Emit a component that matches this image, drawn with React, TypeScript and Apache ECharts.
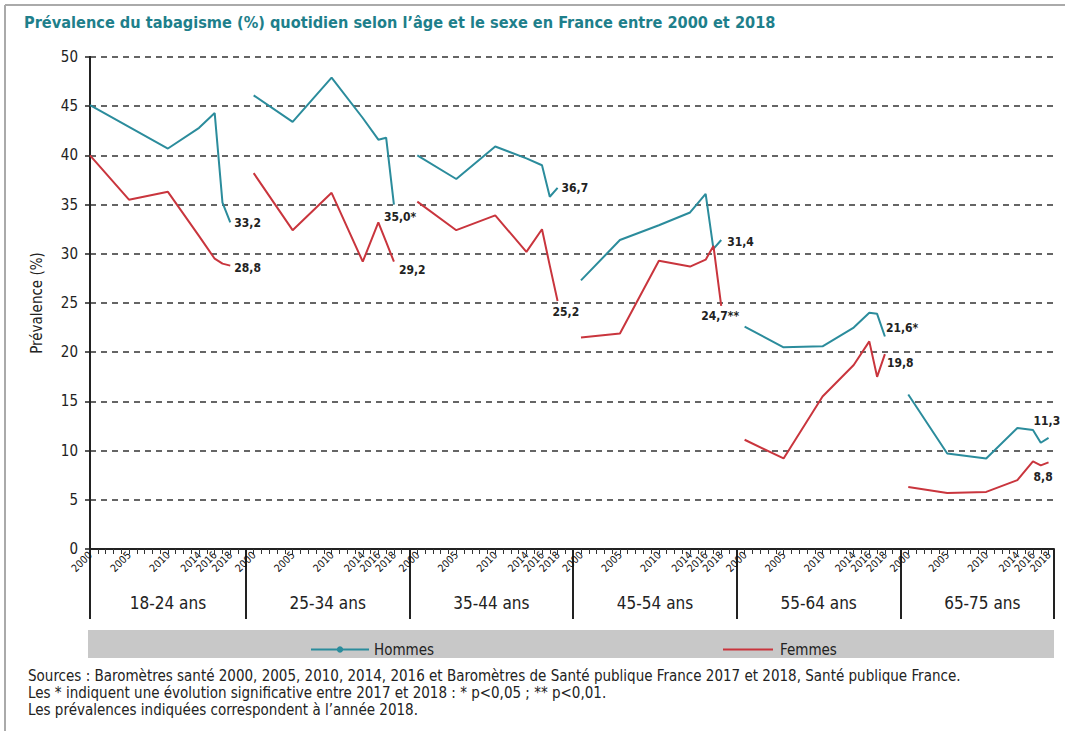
import React, { useEffect, useRef } from 'react';
import * as echarts from 'echarts';

// ---------- DATA ----------
const groups = ['18-24 ans', '25-34 ans', '35-44 ans', '45-54 ans', '55-64 ans', '65-75 ans'];
const years = [2000, 2005, 2010, 2014, 2016, 2017, 2018];
const yearTickLabels = [2000, 2005, 2010, 2014, 2016, 2018];

// Prévalence (%) by age group, values for each year in `years`
const hommes = [
  [45.1, 42.9, 40.7, 42.8, 44.3, 35.2, 33.2],
  [46.1, 43.4, 47.9, 43.8, 41.6, 41.8, 35.0],
  [40.0, 37.6, 40.9, 39.7, 39.0, 35.8, 36.7],
  [27.3, 31.4, 32.9, 34.2, 36.1, 30.5, 31.4],
  [22.6, 20.5, 20.6, 22.5, 24.0, 23.9, 21.6],
  [15.7, 9.7, 9.2, 12.3, 12.1, 10.8, 11.3],
];
const femmes = [
  [40.0, 35.5, 36.3, 31.8, 29.5, 29.0, 28.8],
  [38.2, 32.4, 36.2, 29.2, 33.2, 31.2, 29.2],
  [35.3, 32.4, 33.9, 30.2, 32.5, 28.8, 25.2],
  [21.5, 21.9, 29.3, 28.7, 29.4, 30.8, 24.7],
  [11.1, 9.2, 15.5, 18.7, 21.1, 17.5, 19.8],
  [6.3, 5.7, 5.8, 7.0, 8.9, 8.5, 8.8],
];
const hommesLabels = ['33,2', '35,0*', '36,7', '31,4', '21,6*', '11,3'];
const femmesLabels = ['28,8', '29,2', '25,2', '24,7**', '19,8', '8,8'];

const sourceLines = [
  'Sources : Baromètres santé 2000, 2005, 2010, 2014, 2016 et Baromètres de Santé publique France 2017 et 2018, Santé publique France.',
  'Les * indiquent une évolution significative entre 2017 et 2018 : * p<0,05 ; ** p<0,01.',
  'Les prévalences indiquées correspondent à l\u2019année 2018.',
];

// ---------- LAYOUT / STYLE ----------
const SLOT = 21; // x units per age group (one unit per year)
const X_MAX = 123.7;
const FONT = "'Liberation Sans Narrow', 'Arial Narrow', 'DejaVu Sans Condensed', sans-serif";
const C_H = '#2b8c9c';
const C_F = '#c9353d';
const TXT = '#222';

const hommesLabelOffsets = [[0, 1], [-14, 12], [0, 0], [2, 2], [-3, -8], [-19, -17]];
const femmesLabelOffsets = [[0, 2], [1, 8], [-9, 11], [-24, 10], [-2, 9], [-19, 15]];

const xOf = (g: number, year: number) => g * SLOT + (year - 2000);

function buildSeries(name: string, color: string, values: number[][], labels: string[], offsets: number[][], symbol: string) {
  return values.map((vals, g) => ({
    name,
    type: 'line',
    xAxisIndex: 0,
    yAxisIndex: 0,
    symbol,
    symbolSize: 5,
    showSymbol: false,
    lineStyle: { color, width: 2 },
    itemStyle: { color },
    data: vals.map((v, i) => [xOf(g, years[i]), v]),
    endLabel: {
      show: true,
      formatter: labels[g],
      distance: 4,
      offset: offsets[g],
      color: TXT,
      fontFamily: FONT,
      fontWeight: 'bold',
      fontSize: 12,
    },
    emphasis: { disabled: true },
  }));
}

export default function App() {
  const ref = useRef<HTMLDivElement>(null);

  useEffect(() => {
    if (!ref.current) return;
    const chart = echarts.init(ref.current, undefined, { renderer: 'svg' });

    const yearTickValues: number[] = [];
    groups.forEach((_, g) => yearTickLabels.forEach((y) => yearTickValues.push(xOf(g, y))));
    const dividers = [0, ...groups.slice(1).map((_, i) => (i + 1) * SLOT - 1), X_MAX];
    const groupCenters = groups.map((_, g) => (g === 0 ? 10 : g * SLOT + 9.5));
    const isYearTick = (v: number) => yearTickValues.indexOf(Math.round(v)) >= 0 && Math.abs(v - Math.round(v)) < 1e-6;

    chart.setOption({
      animation: false,
      backgroundColor: '#ffffff',
      textStyle: { fontFamily: FONT },
      title: {
        text: 'Prévalence du tabagisme (%) quotidien selon l\u2019âge et le sexe en France entre 2000 et 2018',
        left: 19,
        top: 9,
        textStyle: { color: '#1e7f8b', fontSize: 16.2, fontWeight: 'bold', fontFamily: FONT },
      },
      grid: { left: 90, right: 11, top: 57, bottom: 182, containLabel: false },
      legend: [
        {
          data: ['Hommes'],
          left: 305,
          top: 637,
          itemWidth: 58,
          itemHeight: 8,
          itemGap: 8,
          textStyle: { fontSize: 15, color: TXT, fontFamily: FONT },
          selectedMode: false,
        },
        {
          data: [{ name: 'Femmes', icon: 'rect' }],
          left: 718,
          top: 637,
          itemWidth: 50,
          itemHeight: 2,
          textStyle: { fontSize: 15, color: TXT, fontFamily: FONT, padding: [0, 0, 0, 2] },
          selectedMode: false,
        },
      ],
      xAxis: [
        {
          type: 'value',
          min: 0,
          max: X_MAX,
          interval: 1,
          position: 'bottom',
          axisLine: { show: true, onZero: false, lineStyle: { color: TXT, width: 2 } },
          axisTick: { show: true, length: 5, lineStyle: { color: '#333', width: 1, type: 'solid' } },
          axisLabel: {
            show: true,
            rotate: 45,
            margin: 4,
            fontSize: 10.5,
            color: '#111',
            fontFamily: FONT,
            showMinLabel: true,
            showMaxLabel: false,
            hideOverlap: false,
            formatter: (v: number) => (isYearTick(v) ? String(2000 + (Math.round(v) % SLOT)) : ''),
          },
          splitLine: { show: false },
          minorTick: { show: false },
          minorSplitLine: { show: false },
        },
        {
          type: 'value',
          min: 0,
          max: X_MAX,
          position: 'bottom',
          axisLine: { show: false },
          axisTick: { show: true, customValues: dividers, length: 70, lineStyle: { color: TXT, width: 2, type: 'solid' } },
          axisLabel: {
            show: true,
            customValues: groupCenters,
            margin: 45,
            fontSize: 17,
            color: TXT,
            fontFamily: FONT,
            formatter: (v: number) => groups[Math.floor((v + 1) / SLOT)],
          },
          splitLine: { show: false },
        },
      ],
      yAxis: [
        {
          type: 'value',
          min: 0,
          max: 50,
          interval: 5,
          position: 'left',
          axisLine: { show: true, lineStyle: { color: TXT, width: 2 } },
          axisTick: { show: true, length: 5, lineStyle: { color: TXT, width: 1.5 } },
          axisLabel: { fontSize: 15, color: TXT, margin: 12, fontFamily: FONT },
          splitLine: { show: true, lineStyle: { color: '#333', type: [6, 5], width: 1.5 } },
          name: 'Prévalence (%)',
          nameLocation: 'middle',
          nameGap: 46,
          nameTextStyle: { fontSize: 15, color: TXT, fontFamily: FONT },
        },
        {
          type: 'value',
          min: 0,
          max: 50,
          position: 'right',
          axisLine: { show: true, lineStyle: { color: TXT, width: 2 } },
          axisTick: { show: false },
          axisLabel: { show: false },
          splitLine: { show: false },
        },
      ],
      graphic: [
        { type: 'line', shape: { x1: 5, y1: 5, x2: 1065, y2: 5 }, style: { stroke: '#aaaaaa', lineWidth: 2 }, silent: true },
        { type: 'line', shape: { x1: 5, y1: 5, x2: 5, y2: 731 }, style: { stroke: '#aaaaaa', lineWidth: 2 }, silent: true },
        { type: 'rect', shape: { x: 88, y: 630, width: 966, height: 28 }, style: { fill: '#c8c8c8' }, z: -10, silent: true },
        ...sourceLines.map((t, i) => ({
          type: 'text',
          x: 28,
          y: 668 + i * 17,
          style: { text: t, fill: TXT, fontSize: 15, fontFamily: FONT },
          silent: true,
        })),
      ],
      series: [
        ...buildSeries('Hommes', C_H, hommes, hommesLabels, hommesLabelOffsets, 'circle'),
        ...buildSeries('Femmes', C_F, femmes, femmesLabels, femmesLabelOffsets, 'none'),
      ],
    });

    return () => chart.dispose();
  }, []);

  return <div ref={ref} style={{ position: 'absolute', left: 0, top: 0, width: 1065, height: 731 }} />;
}
